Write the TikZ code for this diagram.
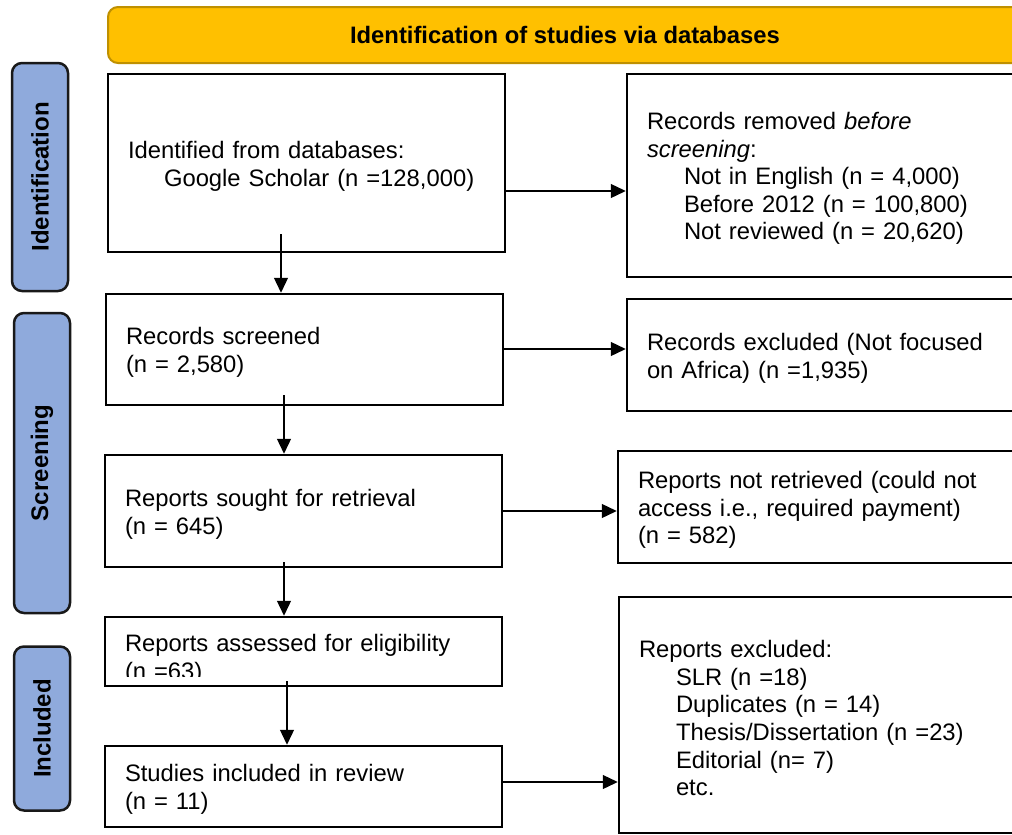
\documentclass[tikz,border=0pt]{standalone}
\usepackage{fontspec}
\setmainfont{Liberation Sans}
\usetikzlibrary{arrows.meta}
\definecolor{hdrfill}{HTML}{FFC000}
\definecolor{hdrline}{HTML}{BF9000}
\definecolor{sidefill}{HTML}{8FAADC}
\newcommand{\fsz}{\fontsize{23.8}{27.6}\selectfont}
\newcommand{\indt}{\hspace*{37pt}}
\newcommand{\tstrut}{\rule{0pt}{23.5pt}}
\begin{document}
\begin{tikzpicture}[x=1pt,y=-1pt,
  stepbox/.style={draw=black, line width=2.5pt, fill=white, font=\fsz, align=left, inner xsep=20pt, inner ysep=0pt},
  sidebar/.style={draw=black!90, line width=2.5pt, fill=sidefill, rounded corners=10pt, rotate=90, font=\fontsize{24}{28}\selectfont\bfseries, inner sep=0pt},
  header/.style={draw=hdrline, line width=2pt, fill=hdrfill, rounded corners=10pt, font=\fontsize{23.8}{28}\selectfont\bfseries, inner sep=0pt},
  arr/.style={line width=1.3pt, -{Triangle[length=15pt,width=14pt]}}]
\useasboundingbox (0,0) rectangle (1012,835);
\fill[white] (0,0) rectangle (1012,835);
\clip (0,0) rectangle (1012,835);

% header
\node[header, minimum width=914, minimum height=56] (hdr) at (565,35) {Identification of studies via databases};

% side bars
\node[sidebar, minimum width=228, minimum height=56] (sid1) at (40,177) {Identification};
\node[sidebar, minimum width=300, minimum height=56] (sid2) at (42,463) {Screening};
\node[sidebar, minimum width=164, minimum height=56] (sid3) at (42,728.5) {Included};

% left column
\node[stepbox, text width=357, minimum height=178] (b1) at (306.5,163) {\tstrut Identified from databases:\\\hspace*{36pt}Google Scholar (n =128,000)};
\node[stepbox, text width=357, minimum height=111] (b3) at (304.5,349.5) {\tstrut Records screened\\(n = 2,580)};
\node[stepbox, text width=357, minimum height=112] (b5) at (303.5,511) {\tstrut Reports sought for retrieval\\(n = 645)};
\node[stepbox, text width=357, minimum height=69] (b7) at (303.5,651.5) {};
\begin{scope}
\clip (105,617) rectangle (502,676);
\node[font=\fsz, align=left, text width=357, inner xsep=20pt, inner ysep=0pt, minimum height=69, yshift=-5pt] (b7t) at (303.5,651.5) {\tstrut Reports assessed for eligibility\\(n =63)};
\end{scope}
\node[stepbox, text width=357, minimum height=81] (b8) at (303.5,786.5) {\tstrut Studies included in review\\(n = 11)};

% right column
\node[stepbox, text width=373, minimum height=203] (b2) at (833.5,175.5) {\tstrut Records removed \textit{before}\\\textit{screening}:\\\indt Not in English (n = 4,000)\\\indt Before 2012 (n = 100,800)\\\indt Not reviewed (n = 20,620)};
\node[stepbox, text width=373, minimum height=112] (b4) at (833.5,355) {\tstrut Records excluded (Not focused\\on Africa) (n =1,935)};
\node[stepbox, text width=382, minimum height=112] (b6) at (829,507) {\tstrut Reports not retrieved (could not\\access i.e., required payment)\\(n = 582)};
\node[stepbox, text width=381, minimum height=236] (b9) at (829.5,715) {\tstrut Reports excluded:\\\indt SLR (n =18)\\\indt Duplicates (n = 14)\\\indt Thesis/Dissertation (n =23)\\\indt Editorial (n= 7)\\\indt etc.};

% horizontal connectors
\coordinate (h1) at (0,191);
\coordinate (h2) at (0,349);
\coordinate (h3) at (0,511);
\coordinate (h4) at (0,782);
\draw[arr] (b1.east |- h1) -- (b2.west |- h1);
\draw[arr] (b3.east |- h2) -- (b4.west |- h2);
\draw[arr] (b5.east |- h3) -- (b6.west |- h3);
\draw[arr] (b8.east |- h4) -- (b9.west |- h4);

% vertical connectors
\coordinate (v1) at (281,234);
\coordinate (v2) at (284,395);
\coordinate (v3) at (284,562);
\coordinate (v4) at (287,681);
\draw[arr] (v1) -- (v1 |- b3.north);
\draw[arr] (v2) -- (v2 |- b5.north);
\draw[arr] (v3) -- (v3 |- b7.north);
\draw[arr] (v4) -- (v4 |- b8.north);
\end{tikzpicture}
\end{document}
